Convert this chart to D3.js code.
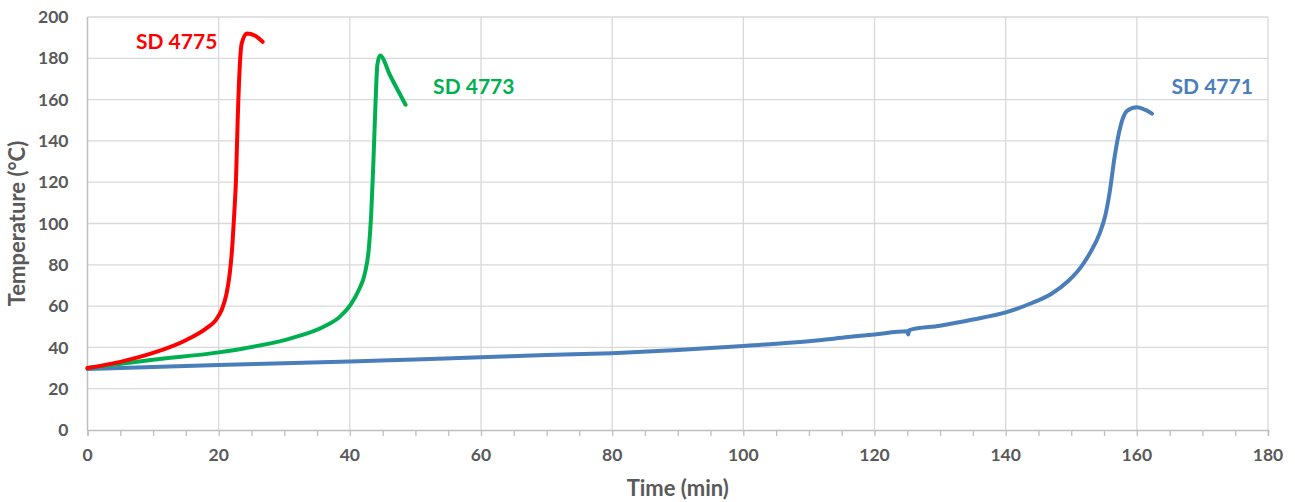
<!DOCTYPE html>
<html>
<head>
<meta charset="utf-8">
<script src="https://cdn.jsdelivr.net/npm/d3@7"></script>
<style>
  body { margin: 0; background: #fff; }
  text { font-family: Lato, "Open Sans", sans-serif; font-weight: bold; }
</style>
</head>
<body>
<div id="chart"></div>
<script>
// chart values: [time (min), temperature (°C)]
const sd4775 = [
  [0, 30], [5, 33], [10, 37.3], [15, 43.5], [18, 49], [19.5, 53], [20.5, 58.5],
  [21.2, 66], [21.7, 76], [22.1, 90], [22.4, 106], [22.65, 122], [22.9, 150],
  [23.2, 175], [23.5, 187], [24.3, 192], [25.5, 191], [26.7, 188]
];
const sd4773 = [
  [0, 30], [10, 34], [20, 37.6], [24, 39.6], [31, 44.4], [36, 50], [38.5, 54.9],
  [40.1, 60.6], [41.4, 68], [42.3, 76], [42.9, 88], [43.25, 104], [43.55, 126],
  [43.9, 157], [44.2, 177], [44.6, 181.3], [46.2, 171.3], [48.5, 157.5]
];
const sd4771 = [
  [0, 29.5], [10, 30.5], [20, 31.5], [30, 32.3], [40, 33.2], [50, 34.2], [60, 35.2],
  [70, 36.3], [80, 37.2], [90, 38.7], [100, 40.7], [110, 43], [116, 45], [120, 46.3],
  [125, 47.8], [125.15, 46.2], [125.3, 48.4], [130, 50.5], [135, 53.5], [140, 57],
  [144, 61.5], [147, 66], [149.5, 72], [151.5, 79], [153, 86.5], [154.3, 95], [155.2, 104],
  [155.9, 116], [156.6, 132], [157.5, 147], [158.5, 154.5], [160, 156.3], [161.3, 155],
  [162.3, 153.2]
];

const seriesNames = ["SD 4775", "SD 4773", "SD 4771"];
const seriesColors = ["#ff0000", "#00b050", "#4a7ebb"];
// label anchor in data units: [time, temperature, text-anchor]
const labelSpots = [[19.8, 188, "end"], [52.7, 166.5, "start"], [165.3, 166.5, "start"]];

const xTicks = d3.range(0, 181, 20);
const xMinorTicks = d3.range(0, 181, 5);
const yTicks = d3.range(0, 201, 20);

const width = 1295;
const height = 502;
const margin = { top: 17, left: 87.5, bottom: 72, right: 27 };

const x = d3.scaleLinear().domain([0, 180]).range([margin.left, width - margin.right]);
const y = d3.scaleLinear().domain([0, 200]).range([height - margin.bottom, margin.top]);

const svg = d3.select("#chart").append("svg")
  .attr("width", width)
  .attr("height", height);

// gridlines
svg.append("g").selectAll("line.hgrid")
  .data(yTicks.filter(d => d > 0))
  .enter().append("line")
  .attr("x1", x(0)).attr("x2", x(180))
  .attr("y1", d => y(d)).attr("y2", d => y(d))
  .attr("stroke", "#d9d9d9").attr("stroke-width", 1.3);

svg.append("g").selectAll("line.vgrid")
  .data(xTicks.filter(d => d > 0))
  .enter().append("line")
  .attr("x1", d => x(d)).attr("x2", d => x(d))
  .attr("y1", y(0)).attr("y2", y(200))
  .attr("stroke", "#d9d9d9").attr("stroke-width", 1.3);

// axes
const xAxis = svg.append("g")
  .attr("transform", "translate(0," + y(0) + ")")
  .call(d3.axisBottom(x).tickValues(xMinorTicks).tickSize(6).tickFormat(""));
xAxis.select(".domain").attr("stroke", "#bfbfbf").attr("stroke-width", 1.5);
xAxis.selectAll(".tick line").attr("stroke", "#bfbfbf").attr("stroke-width", 1.3);

svg.append("line")
  .attr("x1", x(0)).attr("x2", x(0))
  .attr("y1", y(0)).attr("y2", y(200))
  .attr("stroke", "#bfbfbf").attr("stroke-width", 1.5);

svg.append("g").selectAll("text")
  .data(xTicks)
  .enter().append("text")
  .attr("x", d => x(d))
  .attr("y", y(0) + 31)
  .attr("text-anchor", "middle")
  .attr("font-size", 17.5)
  .attr("fill", "#595959")
  .text(d => d);

svg.append("g").selectAll("text")
  .data(yTicks)
  .enter().append("text")
  .attr("x", x(0) - 19)
  .attr("y", d => y(d))
  .attr("dy", "0.35em")
  .attr("text-anchor", "end")
  .attr("font-size", 17.5)
  .attr("fill", "#595959")
  .text(d => d);

// axis titles
svg.append("text")
  .attr("x", (x(0) + x(180)) / 2)
  .attr("y", height - 6)
  .attr("text-anchor", "middle")
  .attr("font-size", 22)
  .attr("fill", "#595959")
  .text("Time (min)");

svg.append("text")
  .attr("transform", "translate(25," + (y(0) + y(200)) / 2 + ") rotate(-90)")
  .attr("text-anchor", "middle")
  .attr("font-size", 22)
  .attr("fill", "#595959")
  .text("Temperature (°C)");

// curves
const line = d3.line()
  .x(d => x(d[0]))
  .y(d => y(d[1]))
  .curve(d3.curveMonotoneX);

[sd4771, sd4773, sd4775].forEach(function(data, i) {
  svg.append("path")
    .datum(data)
    .attr("d", line)
    .attr("fill", "none")
    .attr("stroke", seriesColors[2 - i])
    .attr("stroke-width", 4)
    .attr("stroke-linecap", "round")
    .attr("stroke-linejoin", "round");
});

// series labels
svg.append("g").selectAll("text")
  .data(seriesNames)
  .enter().append("text")
  .attr("x", (d, i) => x(labelSpots[i][0]))
  .attr("y", (d, i) => y(labelSpots[i][1]))
  .attr("dy", "0.35em")
  .attr("text-anchor", (d, i) => labelSpots[i][2])
  .attr("font-size", 21)
  .attr("fill", (d, i) => seriesColors[i])
  .text(d => d);
</script>
</body>
</html>
